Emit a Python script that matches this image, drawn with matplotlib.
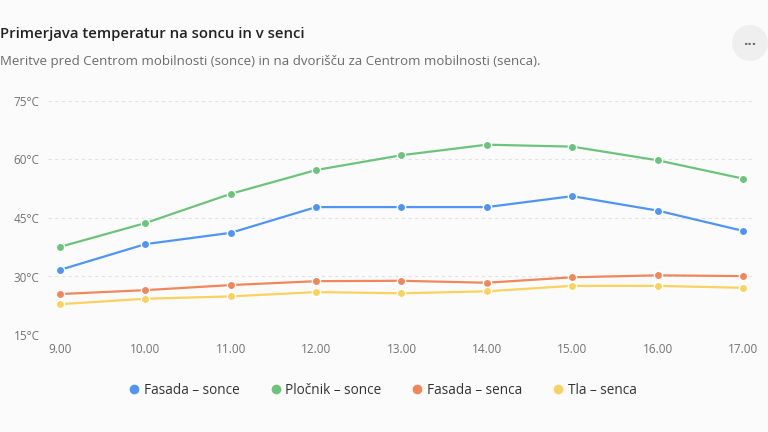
import matplotlib
matplotlib.use("Agg")
import matplotlib.pyplot as plt
from matplotlib.patches import Circle
from matplotlib.lines import Line2D

plt.rcParams['font.family'] = ['Open Sans', 'DejaVu Sans']

hours = ["9.00", "10.00", "11.00", "12.00", "13.00", "14.00", "15.00", "16.00", "17.00"]
fasada_sonce = [31.7, 38.3, 41.2, 47.8, 47.8, 47.8, 50.6, 46.9, 41.7]
plocnik_sonce = [37.6, 43.7, 51.2, 57.3, 61.1, 63.8, 63.3, 59.8, 55.1]
fasada_senca = [25.5, 26.5, 27.8, 28.8, 28.9, 28.4, 29.8, 30.3, 30.1]
tla_senca = [22.9, 24.3, 24.9, 26.0, 25.7, 26.2, 27.6, 27.6, 27.1]
series_names = ["Fasada – sonce", "Pločnik – sonce", "Fasada – senca", "Tla – senca"]
y_ticks = [15, 30, 45, 60, 75]

colors = ["#4f95f5", "#6cc47c", "#f0875a", "#f9d25f"]
bg = "#fbfbfb"

W, H = 768, 432
fig = plt.figure(figsize=(W / 100, H / 100), dpi=100, facecolor=bg)
ax = fig.add_axes([48 / W, 1 - 335 / H, (753 - 48) / W, (335 - 101) / H])
ax.set_facecolor(bg)

x = list(range(len(hours)))
for vals, c, name in zip([fasada_sonce, plocnik_sonce, fasada_senca, tla_senca], colors, series_names):
    ax.plot(x, vals, color=c, lw=1.6, marker='o', ms=6, mfc=c, mec='white', mew=1.0, label=name, zorder=3)

ax.set_xlim(-12 / 85.4, 8 + 10 / 85.4)
ax.set_ylim(15, 75)
ax.set_yticks(y_ticks)
ax.set_yticklabels([f"{v}°C" for v in y_ticks])
ax.set_xticks(x)
ax.set_xticklabels(hours)
ax.tick_params(axis='both', length=0, colors='#727272', labelsize=8.5)
ax.tick_params(axis='y', pad=6)
ax.tick_params(axis='x', pad=6)
ax.grid(axis='y', color='#e2e2e2', ls=(0, (3, 3)), lw=0.8)
for s in ax.spines.values():
    s.set_visible(False)

fig.text(0 / W, 1 - 34 / H, "Primerjava temperatur na soncu in v senci", fontsize=10.7,
         fontweight='semibold', color='#222222', va='center', ha='left')
fig.text(0 / W, 1 - 62 / H, "Meritve pred Centrom mobilnosti (sonce) in na dvorišču za Centrom mobilnosti (senca).",
         fontsize=9.5, color='#6b6b6b', va='center', ha='left')

circ = Circle((750 / 100, (H - 43) / 100), 0.18, transform=fig.dpi_scale_trans,
              facecolor='#efefef', edgecolor='none')
fig.add_artist(circ)
fig.text(750 / W, 1 - 45 / H, "···", fontsize=11, fontweight='bold', color='#6a6a6a',
         ha='center', va='center')

handles = [Line2D([], [], ls='none', marker='o', ms=7, mfc=c, mec='none') for c in colors]
fig.legend(handles, series_names, loc='center', bbox_to_anchor=(0.5 - 2 / W, 1 - 390 / H), ncol=4,
           frameon=False, fontsize=9.8, handletextpad=0.2, columnspacing=2.15,
           handlelength=1.0, labelcolor='#333333')

fig.savefig("out.png", dpi=100, facecolor=bg)
